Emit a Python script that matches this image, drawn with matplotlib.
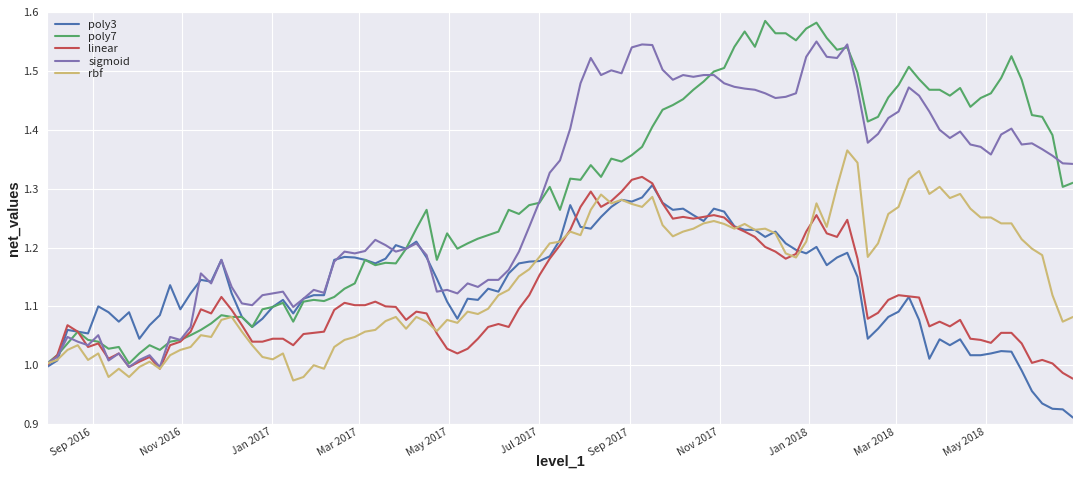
import matplotlib
matplotlib.use('Agg')
import matplotlib.pyplot as plt
import matplotlib.dates as mdates
import numpy as np
import pandas as pd
import seaborn as sns

# sampled roughly once a week, Aug 2016 .. end of Jun 2018
dates = pd.date_range('2016-08-01', '2018-06-29', periods=101)

poly3 = [0.997, 1.008, 1.060, 1.057, 1.054, 1.100, 1.090, 1.074, 1.090, 1.045, 1.068, 1.085, 1.136, 1.095, 1.122, 1.145, 1.142, 1.179,
         1.122, 1.082, 1.065, 1.079, 1.099, 1.111, 1.088, 1.113, 1.119, 1.119, 1.179, 1.184, 1.183, 1.179, 1.173, 1.181,
         1.204, 1.198, 1.210, 1.183, 1.147, 1.108, 1.079, 1.113, 1.111, 1.130, 1.125, 1.156, 1.173, 1.176, 1.177, 1.185, 1.213,
         1.272, 1.235, 1.232, 1.252, 1.269, 1.281, 1.278, 1.285, 1.306, 1.276, 1.264, 1.266, 1.255, 1.245, 1.266, 1.261, 1.236,
         1.230, 1.230, 1.218, 1.227, 1.207, 1.196, 1.190, 1.201, 1.170, 1.183, 1.191, 1.150, 1.045, 1.062, 1.082, 1.091,
         1.116, 1.077, 1.011, 1.044, 1.034, 1.044, 1.017, 1.017, 1.020, 1.024, 1.023, 0.991, 0.956, 0.935, 0.926, 0.925, 0.911]
poly7 = [1.003, 1.017, 1.037, 1.057, 1.043, 1.040, 1.028, 1.031, 1.003, 1.020, 1.034, 1.026, 1.040, 1.043, 1.051, 1.060, 1.071, 1.085,
         1.082, 1.082, 1.065, 1.095, 1.099, 1.106, 1.074, 1.108, 1.111, 1.109, 1.116, 1.130, 1.139, 1.179, 1.170, 1.174,
         1.173, 1.198, 1.232, 1.264, 1.179, 1.224, 1.198, 1.207, 1.215, 1.221, 1.227, 1.264, 1.257, 1.272, 1.276, 1.303, 1.264,
         1.317, 1.315, 1.340, 1.320, 1.351, 1.346, 1.357, 1.371, 1.405, 1.434, 1.442, 1.452, 1.468, 1.482, 1.499, 1.505, 1.541,
         1.567, 1.541, 1.585, 1.564, 1.564, 1.552, 1.572, 1.582, 1.556, 1.536, 1.540, 1.497, 1.414, 1.422, 1.455, 1.476,
         1.507, 1.486, 1.468, 1.468, 1.458, 1.471, 1.439, 1.454, 1.462, 1.488, 1.525, 1.485, 1.425, 1.422, 1.391, 1.303, 1.310]
linear = [1.000, 1.017, 1.068, 1.057, 1.031, 1.037, 1.011, 1.020, 0.997, 1.006, 1.014, 0.994, 1.034, 1.040, 1.057, 1.095, 1.088, 1.116,
          1.094, 1.068, 1.040, 1.040, 1.045, 1.045, 1.034, 1.053, 1.055, 1.057, 1.094, 1.106, 1.102, 1.102, 1.108, 1.100,
          1.099, 1.077, 1.091, 1.088, 1.054, 1.028, 1.020, 1.028, 1.045, 1.065, 1.070, 1.065, 1.096, 1.119, 1.153, 1.181, 1.204,
          1.230, 1.269, 1.295, 1.269, 1.279, 1.295, 1.315, 1.320, 1.309, 1.275, 1.249, 1.252, 1.249, 1.252, 1.255, 1.251, 1.235,
          1.227, 1.218, 1.201, 1.193, 1.181, 1.189, 1.227, 1.255, 1.224, 1.218, 1.247, 1.181, 1.079, 1.089, 1.111, 1.119,
          1.117, 1.115, 1.066, 1.074, 1.066, 1.077, 1.045, 1.043, 1.038, 1.055, 1.055, 1.037, 1.004, 1.009, 1.003, 0.987, 0.977]
sigmoid = [1.003, 1.014, 1.048, 1.040, 1.034, 1.051, 1.008, 1.020, 0.997, 1.009, 1.017, 0.997, 1.048, 1.043, 1.065, 1.156, 1.139, 1.179,
           1.133, 1.105, 1.102, 1.119, 1.122, 1.125, 1.099, 1.113, 1.128, 1.123, 1.176, 1.193, 1.190, 1.194, 1.213, 1.204,
           1.193, 1.198, 1.207, 1.187, 1.125, 1.128, 1.122, 1.139, 1.133, 1.145, 1.145, 1.162, 1.193, 1.235, 1.278, 1.327, 1.348,
           1.402, 1.479, 1.522, 1.493, 1.501, 1.496, 1.540, 1.545, 1.544, 1.502, 1.485, 1.493, 1.490, 1.493, 1.493, 1.479, 1.473,
           1.470, 1.468, 1.462, 1.454, 1.456, 1.462, 1.524, 1.550, 1.524, 1.522, 1.545, 1.470, 1.378, 1.393, 1.420, 1.431,
           1.472, 1.458, 1.431, 1.400, 1.386, 1.397, 1.375, 1.371, 1.358, 1.392, 1.402, 1.375, 1.377, 1.367, 1.356, 1.343, 1.342]
rbf = [1.003, 1.009, 1.026, 1.034, 1.009, 1.020, 0.980, 0.994, 0.980, 0.997, 1.006, 0.994, 1.017, 1.026, 1.031, 1.051, 1.048, 1.077,
       1.082, 1.057, 1.034, 1.014, 1.010, 1.020, 0.974, 0.980, 1.000, 0.994, 1.031, 1.043, 1.048, 1.057, 1.060, 1.075,
       1.082, 1.062, 1.082, 1.074, 1.058, 1.077, 1.072, 1.091, 1.087, 1.096, 1.119, 1.128, 1.151, 1.163, 1.184, 1.207, 1.210,
       1.227, 1.221, 1.264, 1.290, 1.275, 1.281, 1.274, 1.269, 1.286, 1.238, 1.219, 1.227, 1.232, 1.241, 1.245, 1.240, 1.232,
       1.240, 1.230, 1.232, 1.224, 1.190, 1.183, 1.210, 1.275, 1.235, 1.303, 1.365, 1.344, 1.184, 1.207, 1.257, 1.269,
       1.316, 1.330, 1.291, 1.303, 1.284, 1.291, 1.266, 1.251, 1.251, 1.241, 1.241, 1.214, 1.198, 1.187, 1.119, 1.074, 1.082]

names = ['poly3', 'poly7', 'linear', 'sigmoid', 'rbf']
colors = ['#4C72B0', '#55A868', '#C44E52', '#8172B2', '#CCB974']

sns.set_style('darkgrid')
plt.rcParams['font.family'] = ['Noto Sans CJK SC', 'DejaVu Sans']

fig, ax = plt.subplots(figsize=(10.8, 4.83), dpi=100)
fig.subplots_adjust(left=0.0435, right=0.9935, bottom=0.122, top=0.975)

for name, ys, c in zip(names, [poly3, poly7, linear, sigmoid, rbf], colors):
    ax.plot(dates, ys, color=c, lw=1.5, label=name)

ax.set_xlim(dates[0], dates[-1])
ax.set_ylim(0.9, 1.6)
ax.set_yticks(np.arange(0.9, 1.61, 0.1))
ax.xaxis.set_major_locator(mdates.MonthLocator(bymonth=[1, 3, 5, 7, 9, 11]))
ax.xaxis.set_major_formatter(mdates.DateFormatter('%b %Y'))
ax.tick_params(axis='y', labelsize=8, colors='#333333', length=0, pad=6)
ax.tick_params(axis='x', labelsize=7.5, colors='#333333', length=0, pad=2)
for lbl in ax.get_xticklabels():
    lbl.set_rotation(30)
    lbl.set_ha('right')

ax.set_xlabel('level_1', fontsize=10.5, fontweight='bold', family='Liberation Sans', color='#222222')
ax.set_ylabel('net_values', fontsize=10.5, fontweight='bold', family='Liberation Sans', color='#222222')
ax.xaxis.set_label_coords(0.5, -0.075)
ax.yaxis.set_label_coords(-0.0255, 0.5)

ax.legend(loc='upper left', frameon=False, fontsize=8, handlelength=2.2, labelspacing=0.2,
          borderaxespad=0.3)

plt.savefig('out.png', dpi=100)
